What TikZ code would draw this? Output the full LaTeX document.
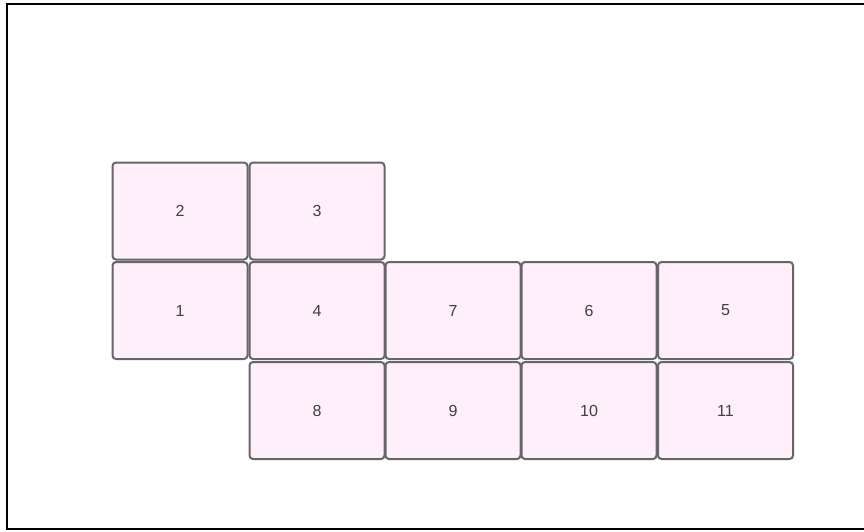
\documentclass[tikz,border=0pt]{standalone}
\usepackage{fontspec}
\setmainfont{Liberation Sans}
\begin{document}
\begin{tikzpicture}[x=1pt,y=-1pt,
  cell/.style={draw=black!60, line width=2pt, fill=pinkfill, rounded corners=3.5pt,
    minimum width=135pt, minimum height=97pt, inner sep=0pt, text=black!75,
    font=\fontsize{16pt}{18pt}\selectfont}]
\definecolor{pinkfill}{HTML}{FEEFFA}
\useasboundingbox (0,0) rectangle (864,531);
\draw[line width=2.6pt] (7,4) rectangle (870,529);
\node[cell] (n2) at (180,211) {2};
\node[cell] (n3) at (317,211) {3};
\node[cell] (n1) at (180,310.5) {1};
\node[cell] (n4) at (317,310.5) {4};
\node[cell] (n7) at (453,310.5) {7};
\node[cell] (n6) at (589,310.5) {6};
\node[cell] (n5) at (725.5,310.5) {5};
\node[cell] (n8) at (317,410.5) {8};
\node[cell] (n9) at (453,410.5) {9};
\node[cell] (n10) at (589,410.5) {10};
\node[cell] (n11) at (725.5,410.5) {11};
\end{tikzpicture}
\end{document}
